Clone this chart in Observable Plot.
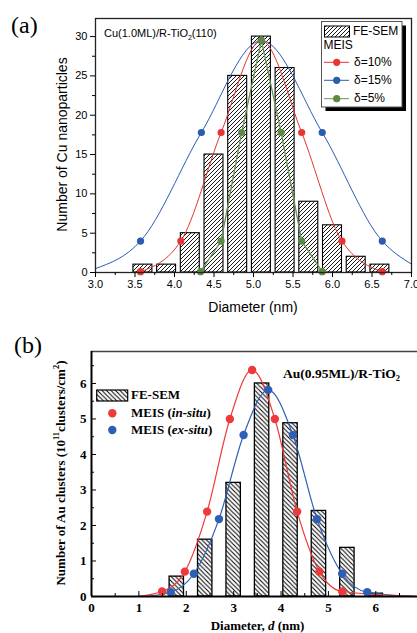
<!DOCTYPE html>
<html><head><meta charset="utf-8">
<script src="https://cdn.jsdelivr.net/npm/d3@7"></script>
<script src="https://cdn.jsdelivr.net/npm/@observablehq/plot@0.6"></script>
<style>
html,body{margin:0;padding:0;background:#fff;}
#root{position:relative;width:417px;height:633px;overflow:hidden;background:#fff;}
#pa{position:absolute;left:0;top:0;}
#pb{position:absolute;left:0;top:320px;}
</style></head><body><div id="root"><div id="pa"></div><div id="pb"></div></div>
<script>
// ---------- Panel (a): Cu(1.0ML)/R-TiO2(110) ----------
const semDiameterA = [3.6, 3.9, 4.2, 4.5, 4.8, 5.1, 5.4, 5.7, 6.0, 6.3, 6.6];
const semCountA    = [1, 1, 5, 15, 25, 30, 26, 9, 6, 2, 1];
const meis10X = [3.57, 4.08, 4.59, 5.10, 5.61, 6.12, 6.63];
const meis10Y = [0.1, 4.0, 17.8, 29.5, 17.8, 4.0, 0.1];
const meis15X = [3.57, 4.34, 5.10, 5.87, 6.63];
const meis15Y = [4.0, 17.8, 29.5, 17.8, 4.0];
const meis15EdgeX = [3.0, 7.0];
const meis15EdgeY = [0.5, 1.07];
const meis5X = [4.33, 4.59, 4.85, 5.10, 5.35, 5.61, 5.87];
const meis5Y = [0.1, 4.0, 17.8, 29.5, 17.8, 4.0, 0.1];
const xTicksA = [3.0, 3.5, 4.0, 4.5, 5.0, 5.5, 6.0, 6.5, 7.0];
const xMinorA = [3.25, 3.75, 4.25, 4.75, 5.25, 5.75, 6.25, 6.75];
const yTicksA = [0, 5, 10, 15, 20, 25, 30];
const yMinorA = [2.5, 7.5, 12.5, 17.5, 22.5, 27.5];
const legendA = ["FE-SEM", "MEIS", "δ=10%", "δ=15%", "δ=5%"];

// ---------- Panel (b): Au(0.95ML)/R-TiO2 ----------
const semDiameterB = [1.8, 2.4, 3.0, 3.6, 4.2, 4.8, 5.4, 6.0];
const semDensityB  = [0.56, 1.6, 3.2, 6.0, 4.88, 2.41, 1.37, 0.08];
const inSituX = [1.49, 1.97, 2.44, 2.92, 3.39, 3.87, 4.34, 4.81, 5.29];
const inSituY = [0.14, 0.70, 2.39, 5.0, 6.38, 5.0, 2.39, 0.70, 0.14];
const inSituTailX = [0.95, 6.88];
const inSituTailY = [0, 0];
const exSituX = [1.67, 2.16, 2.69, 3.21, 3.73, 4.25, 4.76, 5.29, 5.82];
const exSituY = [0.12, 0.64, 2.18, 4.55, 5.82, 4.55, 2.18, 0.64, 0.12];
const exSituTailX = [1.1, 6.88];
const exSituTailY = [0, 0];
const xTicksB = [0, 1, 2, 3, 4, 5, 6];
const xMinorB = [0.5, 1.5, 2.5, 3.5, 4.5, 5.5, 6.5];
const yTicksB = [0, 1, 2, 3, 4, 5, 6];
const yMinorB = [0.5, 1.5, 2.5, 3.5, 4.5, 5.5, 6.5];
const legendB = ["FE-SEM", "MEIS (", "in-situ", ")", "MEIS (", "ex-situ", ")"];

const RED_A = "#e83434", BLUE_A = "#2b5cb2", GREEN_A = "#5a8a42", GREEN_LINE = "#659552";
const RED_B = "#ee3a3a", BLUE_B = "#2e5fb4";

const zip = (xs, ys) => xs.map((x, i) => ({x, y: ys[i]}));
const byX = (a, b) => a.x - b.x;

const semA = semDiameterA.map((d, i) => ({d, n: semCountA[i]}));
const m10 = zip(meis10X, meis10Y);
const m15 = zip(meis15X, meis15Y);
const m15Curve = m15.concat(zip(meis15EdgeX, meis15EdgeY)).sort(byX);
const m5 = zip(meis5X, meis5Y);

const semB = semDiameterB.map((d, i) => ({d, n: semDensityB[i]}));
const inS = zip(inSituX, inSituY);
const inSCurve = inS.concat(zip(inSituTailX, inSituTailY)).sort(byX);
const exS = zip(exSituX, exSituY);
const exSCurve = exS.concat(zip(exSituTailX, exSituTailY)).sort(byX);

const NS = "http://www.w3.org/2000/svg";
function el(tag, attrs, text) {
  const e = document.createElementNS(NS, tag);
  for (const k in attrs) e.setAttribute(k, attrs[k]);
  if (text != null) e.textContent = text;
  return e;
}
function asSvg(node) { return node.tagName.toLowerCase() === "svg" ? node : node.querySelector("svg"); }
function blank() { return ""; }

// ---------- Plot (a) ----------
const plotA = Plot.plot({
  width: 417, height: 320,
  marginLeft: 95, marginRight: 6, marginTop: 18, marginBottom: 48,
  x: {domain: [3, 7]},
  y: {domain: [0, 32.3]},
  style: {fontFamily: "'Liberation Sans', Arial, sans-serif", fontSize: "11px", color: "#000", background: "transparent", overflow: "visible"},
  marks: [
    Plot.rect(semA, {x1: d => d.d - 0.12, x2: d => d.d + 0.12, y1: 0, y2: "n", fill: "url(#hatchA)", stroke: "#000", strokeWidth: 1.1}),
    Plot.line(m15Curve, {x: "x", y: "y", stroke: BLUE_A, strokeWidth: 1, curve: "monotone-x"}),
    Plot.line(m10, {x: "x", y: "y", stroke: RED_A, strokeWidth: 1, curve: "monotone-x"}),
    Plot.line(m5, {x: "x", y: "y", stroke: GREEN_LINE, strokeWidth: 1.3}),
    Plot.dot(m15, {x: "x", y: "y", r: 3.6, fill: BLUE_A}),
    Plot.dot(m10, {x: "x", y: "y", r: 3.6, fill: RED_A}),
    Plot.dot(m5, {x: "x", y: "y", r: 3.6, fill: GREEN_A}),
    Plot.frame({stroke: "#222", strokeWidth: 1.3}),
    Plot.axisX({ticks: xTicksA, tickSize: 5, tickPadding: 3, tickFormat: d3.format(".1f"), label: null}),
    Plot.axisX({ticks: xMinorA, tickSize: 3, tickFormat: blank, label: null}),
    Plot.axisY({ticks: yTicksA, tickSize: 5, tickPadding: 3, tickFormat: d3.format("d"), label: null}),
    Plot.axisY({ticks: yMinorA, tickSize: 3, tickFormat: blank, label: null})
  ]
});
document.getElementById("pa").appendChild(plotA);
const svgA = asSvg(plotA);
{
  const defs = el("defs", {});
  const pat = el("pattern", {id: "hatchA", patternUnits: "userSpaceOnUse", width: 4, height: 4});
  pat.appendChild(el("rect", {width: 4, height: 4, fill: "#fff"}));
  pat.appendChild(el("path", {d: "M-1,1 l2,-2 M0,4 l4,-4 M3,5 l2,-2", stroke: "#000", "stroke-width": 0.9}));
  defs.appendChild(pat);
  svgA.insertBefore(defs, svgA.firstChild);

  const g = el("g", {"font-family": "'Liberation Sans', Arial, sans-serif", fill: "#000", "text-anchor": "start"});
  g.appendChild(el("text", {x: 11, y: 33, "font-family": "'Liberation Serif', 'Times New Roman', serif", "font-size": 24}, "(a)"));
  // annotation
  const t = el("text", {x: 104, y: 37, "font-size": 11});
  t.appendChild(el("tspan", {}, "Cu(1.0ML)/R-TiO"));
  t.appendChild(el("tspan", {dy: 2.5, "font-size": 7}, "2"));
  t.appendChild(el("tspan", {dy: -2.5}, "(110)"));
  g.appendChild(t);
  // axis labels
  g.appendChild(el("text", {transform: "translate(63,144.5) rotate(-90)", "text-anchor": "middle", "dominant-baseline": "middle", "font-size": 14}, "Number of Cu nanoparticles"));
  g.appendChild(el("text", {x: 253, y: 308, "text-anchor": "middle", "dominant-baseline": "middle", "font-size": 14}, "Diameter (nm)"));
  // legend
  g.appendChild(el("rect", {x: 325.5, y: 25.5, width: 80.5, height: 85.5, fill: "#000"}));
  g.appendChild(el("rect", {x: 321.5, y: 21.5, width: 80.5, height: 85.5, fill: "#fff", stroke: "#555", "stroke-width": 1}));
  g.appendChild(el("rect", {x: 324.5, y: 26, width: 25, height: 11, fill: "url(#hatchA)", stroke: "#000", "stroke-width": 1}));
  g.appendChild(el("text", {x: 353, y: 32, "dominant-baseline": "middle", "font-size": 12}, legendA[0]));
  g.appendChild(el("text", {x: 323.5, y: 46, "dominant-baseline": "middle", "font-size": 12}, legendA[1]));
  const items = [[legendA[2], RED_A, RED_A, 62.3], [legendA[3], BLUE_A, BLUE_A, 80.3], [legendA[4], GREEN_LINE, GREEN_A, 98.7]];
  for (const [lab, lc, dc, yy] of items) {
    g.appendChild(el("line", {x1: 324, x2: 349, y1: yy, y2: yy, stroke: lc, "stroke-width": 1}));
    g.appendChild(el("circle", {cx: 336.7, cy: yy, r: 3.6, fill: dc}));
    g.appendChild(el("text", {x: 354, y: yy + 0.5, "dominant-baseline": "middle", "font-size": 12}, lab));
  }
  svgA.appendChild(g);
}

// ---------- Plot (b) ----------
const plotB = Plot.plot({
  width: 417, height: 313,
  marginLeft: 91, marginRight: 0, marginTop: 31, marginBottom: 37,
  x: {domain: [0, 6.88]},
  y: {domain: [0, 6.9]},
  style: {fontFamily: "'Liberation Serif', 'Times New Roman', serif", fontSize: "13px", fontWeight: "bold", color: "#000", background: "transparent", overflow: "visible"},
  marks: [
    Plot.rect(semB, {x1: d => d.d - 0.152, x2: d => d.d + 0.152, y1: 0, y2: "n", fill: "url(#hatchB)", stroke: "#000", strokeWidth: 1.3}),
    Plot.line(exSCurve, {x: "x", y: "y", stroke: BLUE_B, strokeWidth: 1.2, curve: "monotone-x"}),
    Plot.line(inSCurve, {x: "x", y: "y", stroke: RED_B, strokeWidth: 1.2, curve: "monotone-x"}),
    Plot.dot(inS, {x: "x", y: "y", r: 4.2, fill: RED_B}),
    Plot.dot(exS, {x: "x", y: "y", r: 4.2, fill: BLUE_B}),
    Plot.ruleY([6.9], {stroke: "#444", strokeWidth: 1.4}),
    Plot.ruleY([0], {stroke: "#000", strokeWidth: 2}),
    Plot.ruleX([0], {stroke: "#000", strokeWidth: 2}),
    Plot.axisX({ticks: xTicksB, tickSize: -5, tickFormat: blank, label: null}),
    Plot.axisX({ticks: xMinorB, tickSize: -3, tickFormat: blank, label: null}),
    Plot.axisX({ticks: xTicksB, tickSize: 0, tickPadding: 6, tickFormat: d3.format("d"), label: null}),
    Plot.axisY({ticks: yTicksB, tickSize: -5, tickFormat: blank, label: null}),
    Plot.axisY({ticks: yMinorB, tickSize: -3, tickFormat: blank, label: null}),
    Plot.axisY({ticks: yTicksB, tickSize: 0, tickPadding: 5, tickFormat: d3.format("d"), label: null})
  ]
});
document.getElementById("pb").appendChild(plotB);
const svgB = asSvg(plotB);
{
  const defs = el("defs", {});
  const pat = el("pattern", {id: "hatchB", patternUnits: "userSpaceOnUse", width: 4.5, height: 4.5});
  pat.appendChild(el("rect", {width: 4.5, height: 4.5, fill: "#fff"}));
  pat.appendChild(el("path", {d: "M-1,3.5 l2,2 M0,0 l4.5,4.5 M3.5,-1 l2,2", stroke: "#000", "stroke-width": 1}));
  defs.appendChild(pat);
  svgB.insertBefore(defs, svgB.firstChild);

  const g = el("g", {"font-family": "'Liberation Serif', 'Times New Roman', serif", "font-weight": "bold", fill: "#000", "text-anchor": "start"});
  g.appendChild(el("text", {x: 14, y: 33, "font-size": 24, "font-weight": "normal"}, "(b)"));
  const t = el("text", {x: 283, y: 58, "font-size": 13.5});
  t.appendChild(el("tspan", {}, "Au(0.95ML)/R-TiO"));
  t.appendChild(el("tspan", {dy: 3, "font-size": 8.5}, "2"));
  g.appendChild(t);
  // y label
  const yl = el("text", {transform: "translate(62,153) rotate(-90)", "text-anchor": "middle", "dominant-baseline": "middle", "font-size": 13});
  yl.appendChild(el("tspan", {}, "Number of Au clusters (10"));
  yl.appendChild(el("tspan", {dy: -5, "font-size": 8.5}, "11"));
  yl.appendChild(el("tspan", {dy: 5}, "clusters/cm"));
  yl.appendChild(el("tspan", {dy: -5, "font-size": 8.5}, "2"));
  yl.appendChild(el("tspan", {dy: 5}, ")"));
  g.appendChild(yl);
  // x label
  const xl = el("text", {x: 257.5, y: 307, "text-anchor": "middle", "dominant-baseline": "middle", "font-size": 13});
  xl.appendChild(el("tspan", {}, "Diameter, "));
  xl.appendChild(el("tspan", {"font-style": "italic"}, "d"));
  xl.appendChild(el("tspan", {}, " (nm)"));
  g.appendChild(xl);
  // legend
  g.appendChild(el("rect", {x: 96.7, y: 70, width: 31, height: 11, fill: "url(#hatchB)", stroke: "#000", "stroke-width": 1.2}));
  g.appendChild(el("text", {x: 131, y: 76, "dominant-baseline": "middle", "font-size": 13}, legendB[0]));
  const rows = [[RED_B, 93.3, 1], [BLUE_B, 110, 4]];
  for (const [c, yy, k] of rows) {
    g.appendChild(el("circle", {cx: 112.3, cy: yy, r: 4.2, fill: c}));
    const tx = el("text", {x: 131, y: yy + 0.5, "dominant-baseline": "middle", "font-size": 13});
    tx.appendChild(el("tspan", {}, legendB[k]));
    tx.appendChild(el("tspan", {"font-style": "italic"}, legendB[k + 1]));
    tx.appendChild(el("tspan", {}, legendB[k + 2]));
    g.appendChild(tx);
  }
  svgB.appendChild(g);
}
</script></body></html>
